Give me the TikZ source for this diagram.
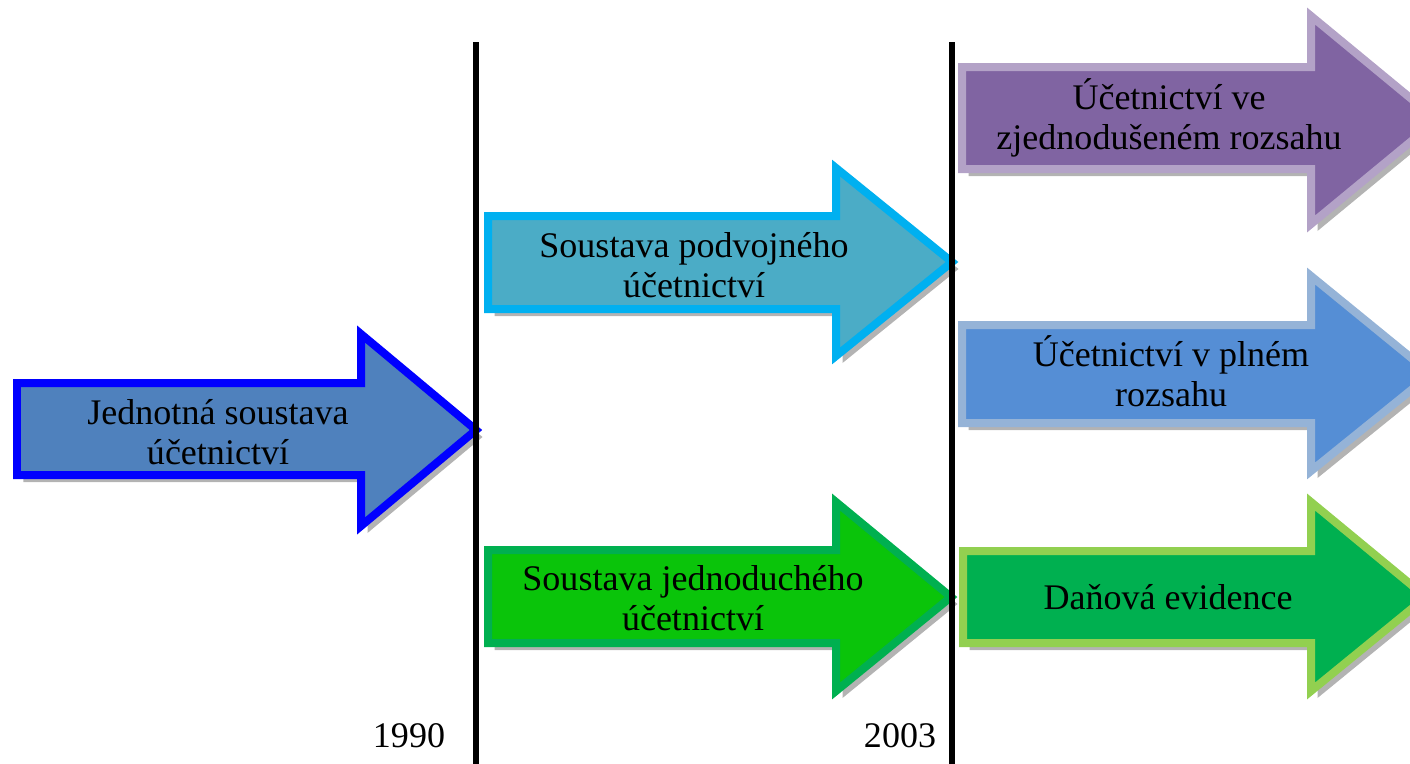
\documentclass[tikz,border=0pt]{standalone}
\usepackage{fontspec}
\setmainfont{Liberation Serif}
\usetikzlibrary{positioning,shadows}

\definecolor{jednotnaFill}{HTML}{4F81BD}
\definecolor{jednotnaDraw}{HTML}{0000FF}
\definecolor{podvojneFill}{HTML}{4BACC6}
\definecolor{podvojneDraw}{HTML}{00B0F0}
\definecolor{jednoducheFill}{HTML}{0AC40A}
\definecolor{jednoducheDraw}{HTML}{00B050}
\definecolor{zjednoduseneFill}{HTML}{8064A2}
\definecolor{zjednoduseneDraw}{HTML}{B3A2C7}
\definecolor{plneFill}{HTML}{558ED5}
\definecolor{plneDraw}{HTML}{95B3D7}
\definecolor{danovaFill}{HTML}{00B050}
\definecolor{danovaDraw}{HTML}{92D050}

\begin{document}
\begin{tikzpicture}[
    x=0.02cm, y=-0.02cm,
    % společné styly
    sipka/.style={line width=0.16cm, line join=miter,
        drop shadow={shadow xshift=0.13cm, shadow yshift=-0.14cm,
                     fill=black!50, opacity=0.6}},
    popis/.style={font=\fontsize{20.5}{22.8}\selectfont, align=center, inner sep=0pt},
    rok/.style={font=\fontsize{20.5}{22.8}\selectfont, anchor=base, inner sep=0pt},
    hranice/.style={line width=0.12cm}
]

    % --- 0. velikost obrázku ---
    \useasboundingbox (0,0) rectangle (1410,764);
    \clip (0,0) rectangle (1410,764);

    % --- 1. šipka vlevo (do roku 1990) ---
    \draw[sipka, fill=jednotnaFill, draw=jednotnaDraw]
        (17,383) -- (361,383) -- (361,334) -- (476,430) -- (361,526) -- (361,475) -- (17,475) -- cycle;
    \node[popis] (jednotna) at (218,432) {Jednotná soustava\\účetnictví};

    % --- 2. šipky mezi lety 1990 a 2003 ---
    \draw[sipka, fill=podvojneFill, draw=podvojneDraw]
        (488,216) -- (836,216) -- (836,168) -- (952,262) -- (836,356) -- (836,309) -- (488,309) -- cycle;
    \node[popis] (podvojne) at (694,265) {Soustava podvojného\\účetnictví};

    \draw[sipka, fill=jednoducheFill, draw=jednoducheDraw]
        (488,550) -- (836,550) -- (836,502) -- (951,597) -- (836,691) -- (836,643) -- (488,643) -- cycle;
    \node[popis] (jednoduche) at (693,598) {Soustava jednoduchého\\účetnictví};

    % --- 3. šipky po roce 2003 ---
    \draw[sipka, fill=zjednoduseneFill, draw=zjednoduseneDraw]
        (962,67) -- (1311,67) -- (1311,16) -- (1437,120) -- (1311,224) -- (1311,169) -- (962,169) -- cycle;
    \node[popis] (zjednodusene) at (1169,118) {Účetnictví ve\\zjednodušeném rozsahu};

    \draw[sipka, fill=plneFill, draw=plneDraw]
        (962,325) -- (1311,325) -- (1311,276) -- (1431,374) -- (1311,471) -- (1311,423) -- (962,423) -- cycle;
    \node[popis] (plne) at (1171,371) {Účetnictví v plném\\rozsahu};

    \draw[sipka, fill=danovaFill, draw=danovaDraw]
        (963,551) -- (1311,551) -- (1311,502) -- (1426,597) -- (1311,691) -- (1311,643) -- (963,643) -- cycle;
    \node[popis] (danova) at (1168,597) {Daňová evidence};

    % --- 4. svislé hranice a roky ---
    \coordinate (h1top) at (476,42);
    \coordinate (h1bot) at (476,764);
    \coordinate (h2top) at (952,42);
    \coordinate (h2bot) at (952,764);
    \draw[hranice] (h1top) -- (h1bot);
    \draw[hranice] (h2top) -- (h2bot);

    \node[rok] (rok1990) at (409,747) {1990};
    \node[rok] (rok2003) at (900,747) {2003};

\end{tikzpicture}
\end{document}
